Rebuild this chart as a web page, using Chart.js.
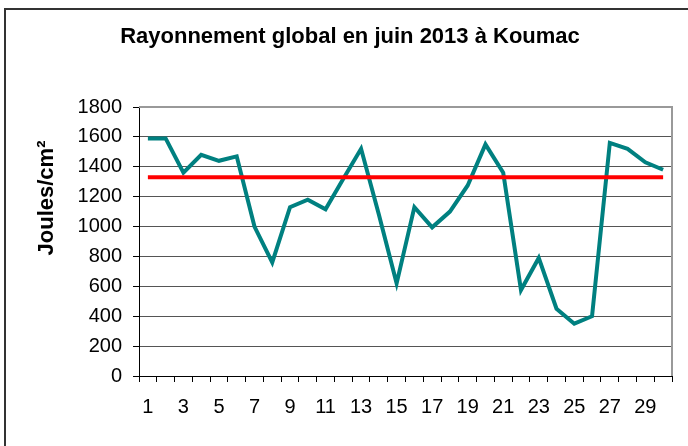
<!DOCTYPE html>
<html>
<head>
<meta charset="utf-8">
<script src="https://cdn.jsdelivr.net/npm/chart.js@4.4.0/dist/chart.umd.min.js"></script>
<style>
  html, body { margin: 0; padding: 0; background: #fff; }
  #wrap { width: 688px; height: 446px; }
</style>
</head>
<body>
<div id="wrap"><canvas id="chart" width="688" height="446"></canvas></div>
<script>
const days = ['1', '2', '3', '4', '5', '6', '7', '8', '9', '10',
  '11', '12', '13', '14', '15', '16', '17', '18', '19', '20',
  '21', '22', '23', '24', '25', '26', '27', '28', '29', '30'];

// rayonnement global journalier (J/cm²)
const rayonnement = [1590, 1590, 1360, 1480, 1440, 1470, 1000, 760, 1130, 1180,
  1115, 1320, 1520, 1080, 620, 1130, 995, 1100, 1275, 1550,
  1360, 575, 790, 450, 350, 400, 1560, 1520, 1430, 1380];

// ligne de référence (rouge)
const reference = [1330, 1330, 1330, 1330, 1330, 1330, 1330, 1330, 1330, 1330,
  1330, 1330, 1330, 1330, 1330, 1330, 1330, 1330, 1330, 1330,
  1330, 1330, 1330, 1330, 1330, 1330, 1330, 1330, 1330, 1330];

const yTicks = { min: 0, max: 1800, step: 200 };

const chartTitle = 'Rayonnement global en juin 2013 à Koumac';
const yTitle = 'Joules/cm²';

const FONT = '"Liberation Sans", Arial, sans-serif';

const decorations = {
  id: 'decorations',
  beforeDatasetsDraw(chart) {
    const ctx = chart.ctx;
    const a = chart.chartArea;
    ctx.save();
    ctx.strokeStyle = '#999';
    ctx.lineWidth = 2;
    ctx.beginPath();
    ctx.moveTo(a.left, a.top);
    ctx.lineTo(a.right, a.top);
    ctx.lineTo(a.right, a.bottom);
    ctx.stroke();
    ctx.restore();
  },
  afterDraw(chart) {
    const ctx = chart.ctx;
    ctx.save();
    // outer frame
    ctx.strokeStyle = '#333';
    ctx.lineWidth = 2;
    ctx.beginPath();
    ctx.moveTo(5, 446);
    ctx.lineTo(5, 9);
    ctx.lineTo(688, 9);
    ctx.stroke();

    ctx.fillStyle = '#000';
    ctx.font = 'bold 22px ' + FONT;
    ctx.textAlign = 'center';
    ctx.textBaseline = 'alphabetic';
    ctx.fillText(chartTitle, 350, 43);

    ctx.translate(53, 198);
    ctx.rotate(-Math.PI / 2);
    ctx.fillText(yTitle, 0, 0);
    ctx.restore();
  }
};

const ctx = document.getElementById('chart').getContext('2d');
new Chart(ctx, {
  type: 'line',
  data: {
    labels: days,
    datasets: [
      {
        label: 'Rayonnement',
        data: rayonnement,
        borderColor: '#008080',
        borderWidth: 4,
        pointRadius: 0,
        tension: 0,
        fill: false,
        order: 2
      },
      {
        label: 'Référence',
        data: reference,
        borderColor: '#ff0000',
        borderWidth: 4,
        pointRadius: 0,
        tension: 0,
        fill: false,
        order: 1
      }
    ]
  },
  options: {
    responsive: false,
    animation: false,
    layout: {
      padding: { top: 107, right: 16, left: 0, bottom: 0 }
    },
    plugins: {
      legend: { display: false },
      tooltip: { enabled: false },
      title: { display: false }
    },
    scales: {
      x: {
        type: 'category',
        offset: true,
        grid: {
          offset: true,
          drawOnChartArea: false,
          drawTicks: true,
          tickLength: 6,
          tickColor: '#000'
        },
        border: { color: '#000', width: 1 },
        ticks: {
          autoSkip: false,
          maxRotation: 0,
          padding: 13,
          color: '#000',
          font: { family: FONT, size: 20 },
          callback: (value, index) => index % 2 === 0 ? days[index] : ''
        },
        afterFit: (scale) => { scale.height = 70; }
      },
      y: {
        min: yTicks.min,
        max: yTicks.max,
        grid: {
          color: '#555',
          lineWidth: 1,
          tickLength: 6,
          tickColor: '#000'
        },
        border: { color: '#000', width: 1 },
        ticks: {
          stepSize: yTicks.step,
          padding: 11,
          color: '#000',
          font: { family: FONT, size: 20 },
          callback: (value) => String(value)
        },
        afterFit: (scale) => { scale.width = 139; }
      }
    }
  },
  plugins: [decorations]
});
</script>
</body>
</html>
